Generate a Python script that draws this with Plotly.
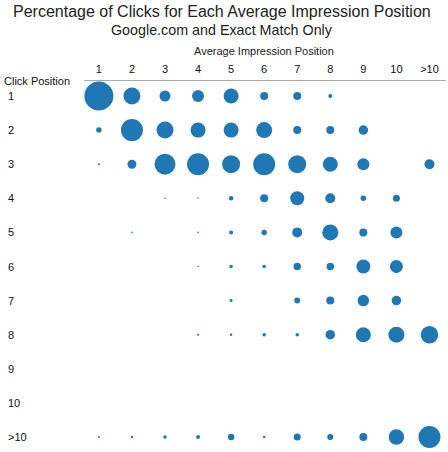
import plotly.graph_objects as go

impression_positions = ["1", "2", "3", "4", "5", "6", "7", "8", "9", "10", ">10"]
click_positions = ["1", "2", "3", "4", "5", "6", "7", "8", "9", "10", ">10"]

# Percentage of clicks (per average impression position column), by click position row
pct_by_click = {
    "1":   [95.6, 32.8, 13.8, 16.4, 25.6, 7.3, 7.3, 1.8, None, None, None],
    "2":   [3.4, 55.0, 32.8, 25.6, 25.6, 29.1, 7.3, 7.3, 10.3, None, None],
    "3":   [0.5, 9.2, 50.0, 55.0, 36.8, 55.0, 36.8, 25.6, 16.4, None, 11.4],
    "4":   [None, None, 0.3, 0.3, 2.3, 7.3, 22.3, 11.4, 3.4, 5.6, None],
    "5":   [None, 0.3, None, 0.3, 1.8, 3.4, 11.4, 29.1, 7.3, 16.4, None],
    "6":   [None, None, None, 0.3, 1.4, 1.4, 6.4, 6.4, 22.3, 19.2, None],
    "7":   [None, None, None, None, 1.0, None, 4.1, 7.3, 15.0, 10.3, None],
    "8":   [None, None, None, 0.5, 0.7, 1.4, 1.4, 10.2, 25.6, 29.1, 34.8],
    "9":   [None] * 11,
    "10":  [None] * 11,
    ">10": [0.5, 0.7, 1.4, 1.8, 4.8, 0.7, 5.6, 4.1, 7.3, 27.3, 55.0],
}

xs, ys, vs = [], [], []
for row in click_positions:
    for col, v in zip(impression_positions, pct_by_click[row]):
        if v is not None:
            xs.append(col)
            ys.append(row)
            vs.append(v)

FONT = "Arial, 'Liberation Sans', sans-serif"
W, H = 448, 452
ML, MR, MT, MB = 84, 2, 81, 0
plot_w = W - ML - MR
plot_h = H - MT - MB


def px_x(x):
    return (x - ML) / plot_w


def px_y(y):
    return (H - MB - y) / plot_h


fig = go.Figure()
fig.add_trace(go.Scatter(
    x=xs, y=ys, mode="markers",
    marker=dict(size=vs, sizemode="area", sizeref=0.227, color="#1f77b4",
                line=dict(width=0), opacity=1),
    hovertemplate="Avg pos %{x}<br>Click pos %{y}<br>%{marker.size:.1f}%<extra></extra>",
    showlegend=False,
))

fig.update_layout(
    width=W, height=H,
    margin=dict(l=ML, r=MR, t=MT, b=MB),
    paper_bgcolor="white", plot_bgcolor="white",
    font=dict(family=FONT, color="#111"),
    xaxis=dict(
        type="category", categoryorder="array", categoryarray=impression_positions,
        side="top", range=[-0.45, 10.5], showgrid=False, zeroline=False,
        showline=True, linecolor="#aaaaaa", linewidth=1,
        ticks="", tickfont=dict(size=11, color="#111", family=FONT),
        ticklabelstandoff=3,
    ),
    yaxis=dict(
        type="category", categoryorder="array", categoryarray=click_positions,
        range=[10.44, -0.44], showgrid=False, zeroline=False, showline=False,
        showticklabels=False, ticks="",
    ),
)

fig.add_annotation(text="Percentage of Clicks for Each Average Impression Position",
                   x=px_x(222), y=px_y(12), xref="paper", yref="paper", showarrow=False,
                   xanchor="center", yanchor="middle",
                   font=dict(size=16, family=FONT, color="#222"))
fig.add_annotation(text="Google.com and Exact Match Only",
                   x=px_x(222), y=px_y(30), xref="paper", yref="paper", showarrow=False,
                   xanchor="center", yanchor="middle",
                   font=dict(size=14.3, family=FONT, color="#222"))
fig.add_annotation(text="Average Impression Position", x=px_x(264), y=px_y(51),
                   xref="paper", yref="paper", showarrow=False,
                   xanchor="center", yanchor="middle",
                   font=dict(size=11, family=FONT, color="#222"))
fig.add_annotation(text="Click Position", x=px_x(2), y=px_y(81),
                   xref="paper", yref="paper", showarrow=False,
                   xanchor="left", yanchor="middle",
                   font=dict(size=11, family=FONT, color="#111"))
for i, lab in enumerate(click_positions):
    fig.add_annotation(text=lab, x=px_x(6), y=i, xref="paper", yref="y",
                       showarrow=False, xanchor="left", yanchor="middle",
                       font=dict(size=11, family=FONT, color="#111"))

fig.write_html("out.html", config={"displayModeBar": False},
               post_script="document.body.style.margin='0';document.body.style.overflow='hidden';")
